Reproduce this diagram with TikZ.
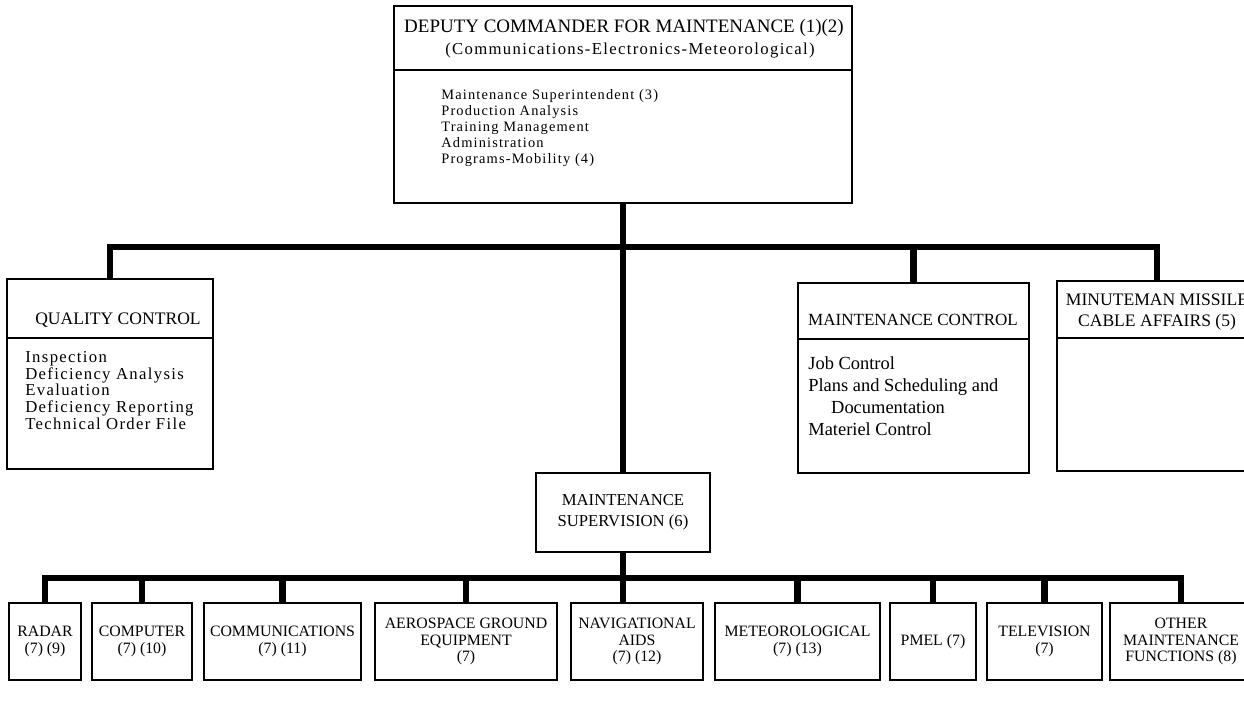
\documentclass[tikz,border=0pt]{standalone}
\usepackage{fontspec}
\setmainfont{Liberation Serif}
\newfontfamily\spaced{Liberation Serif}[LetterSpace=8]
\newcommand\fs[2]{\fontsize{#1}{#2}\selectfont}

\begin{document}
\begin{tikzpicture}[x=0.02cm,y=-0.02cm,
  box/.style={draw,line width=1pt,inner sep=0pt},
  dims/.style 2 args={minimum width=#1*0.02cm,minimum height=#2*0.02cm},
  rule/.style={line width=1pt},
  bus/.style={line width=3.6pt},
  unit/.style={align=center,font=\fs{9}{9.6}},
  lines/.style={anchor=north west,align=left,inner sep=0pt}]
  \useasboundingbox (0,0) rectangle (1244,703);

  % upper level
  \node[box,dims={458}{197}] (top) at (623,104.5) {};
  \draw[rule] (top.north west) ++(0,65) -- ++(458,0);
  \node[inner sep=0pt,font=\fs{10.8}{12}] (toptitle) at (624,28) {DEPUTY COMMANDER FOR MAINTENANCE (1)(2)};
  \node[inner sep=0pt,font=\spaced\fs{9.5}{10}] (topsub) at (630,51) {(Communications-Electronics-Meteorological)};
  \node[lines,font=\spaced\fs{8.2}{9.1}] (topbody) at (441,89)
    {Maintenance Superintendent (3)\\Production Analysis\\Training Management\\Administration\\Programs-Mobility (4)};

  \node[box,dims={206}{190}] (qc) at (110,374) {};
  \draw[rule] (qc.north west) ++(0,60) -- ++(206,0);
  \node[inner sep=0pt,font=\fs{10}{12}] (qctitle) at (118,320) {QUALITY CONTROL};
  \node[lines,font=\spaced\fs{9.5}{9.5}] (qcbody) at (25,351)
    {Inspection\\Deficiency Analysis\\Evaluation\\Deficiency Reporting\\Technical Order File};

  \node[box,dims={231}{190}] (mc) at (913.5,378) {};
  \draw[rule] (mc.north west) ++(0,57) -- ++(231,0);
  \node[inner sep=0pt,font=\fs{9.7}{12}] (mctitle) at (913,320) {MAINTENANCE CONTROL};
  \node[lines,font=\fs{10.5}{12.5}] (mcbody) at (808,356)
    {Job Control\\Plans and Scheduling and\\\hspace*{13pt}Documentation\\Materiel Control};

  \node[box,dims={200}{190}] (mm) at (1157,376) {};
  \draw[rule] (mm.north west) ++(0,58) -- ++(200,0);
  \node[inner sep=0pt,align=center,font=\fs{10}{12}] (mmtitle) at (1157,312) {MINUTEMAN MISSILE\\CABLE AFFAIRS (5)};

  \node[box,dims={174}{79},align=center,font=\fs{9.5}{12}] (sup) at (623,512.5) {MAINTENANCE\\SUPERVISION (6)};

  % lower level
  \node[box,dims={72}{77},unit] (radar) at (45,641.5) {RADAR\\(7) (9)};
  \node[box,dims={100}{77},unit] (comp) at (142,641.5) {COMPUTER\\(7) (10)};
  \node[box,dims={157}{77},unit] (comms) at (282.5,641.5) {COMMUNICATIONS\\(7) (11)};
  \node[box,dims={182}{77},unit] (age) at (466,641.5) {AEROSPACE GROUND\\EQUIPMENT\\(7)};
  \node[box,dims={132}{77},unit] (nav) at (637,641.5) {NAVIGATIONAL\\AIDS\\(7) (12)};
  \node[box,dims={165}{77},unit] (met) at (797.5,641.5) {METEOROLOGICAL\\(7) (13)};
  \node[box,dims={86}{77},unit] (pmel) at (933,641.5) {PMEL (7)};
  \node[box,dims={115}{77},unit] (tv) at (1044.5,641.5) {TELEVISION\\(7)};
  \node[box,dims={142}{77},unit] (other) at (1181,641.5) {OTHER\\MAINTENANCE\\FUNCTIONS (8)};

  % connectors
  \coordinate (hub) at (623,247);
  \coordinate (low) at (623,578);
  \draw[bus] (top.south) -- (sup.north);
  \draw[bus] (qc.north) |- (mm.north |- hub) -- (mm.north);
  \draw[bus] (mc.north) -- (mc.north |- hub);
  \draw[bus] (sup.south) -- (sup.south |- nav.north);
  \draw[bus] (radar.north) |- (other.north |- low) -- (other.north);
  \draw[bus] (comp.north) -- (comp.north |- low);
  \draw[bus] (comms.north) -- (comms.north |- low);
  \draw[bus] (age.north) -- (age.north |- low);
  \draw[bus] (met.north) -- (met.north |- low);
  \draw[bus] (pmel.north) -- (pmel.north |- low);
  \draw[bus] (tv.north) -- (tv.north |- low);
\end{tikzpicture}
\end{document}
